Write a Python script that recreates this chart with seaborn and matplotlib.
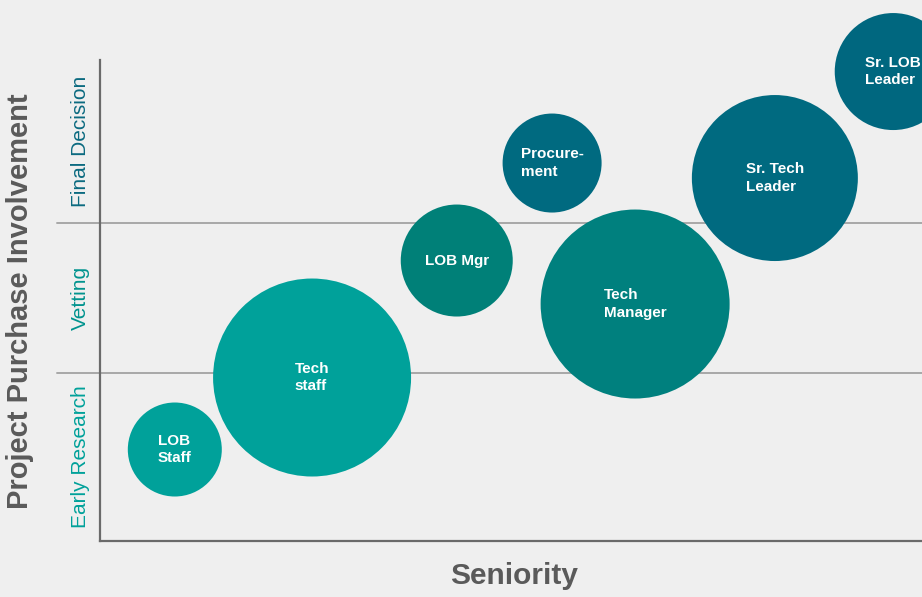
import matplotlib
matplotlib.use("Agg")
import matplotlib.pyplot as plt
import matplotlib.transforms as mtransforms
import seaborn as sns
import pandas as pd

# ---- data ----
roles = ["LOB\nStaff", "Tech\nstaff", "LOB Mgr", "Procure-\nment",
         "Tech\nManager", "Sr. Tech\nLeader", "Sr. LOB\nLeader"]
seniority = [0.91, 2.58, 4.34, 5.50, 6.51, 8.21, 9.65]
involvement = [0.49, 0.97, 1.75, 2.40, 1.46, 2.30, 3.01]
bubble_size = [94, 198, 112, 99, 189, 166, 117]   # relative bubble diameters
role_colors = ["#00A19A", "#00A19A", "#008078", "#006A80",
               "#00807E", "#006A80", "#00677F"]
stage_labels = ["Early Research", "Vetting", "Final Decision"]
stage_colors = ["#00A19A", "#00938E", "#0B6A80"]
stage_bounds = [1, 2]

sns.set_theme(style="white")
plt.rcParams["font.family"] = ["Liberation Sans", "DejaVu Sans"]

BG = "#EFEFEF"
DPI = 100
fig = plt.figure(figsize=(9.22, 5.97), dpi=DPI, facecolor=BG)
W, H = 922, 597
ax = fig.add_axes([100 / W, (H - 541) / H, (W - 100) / W, (541 - 60) / H])
ax.set_facecolor(BG)

xlim = (0, 10)
ylim = (-0.12, 3.087)
ax.set_xlim(*xlim)
ax.set_ylim(*ylim)

df = pd.DataFrame({
    "role": roles,
    "seniority": seniority,
    "involvement": involvement,
    "area": [(d * 72 / DPI) ** 2 for d in bubble_size],
})

# band separators (drawn first, under bubbles)
trans = mtransforms.blended_transform_factory(ax.transAxes, ax.transData)
for b in stage_bounds:
    ax.plot([-0.052, 1.0], [b, b], transform=trans, color="#A8A8A8",
            lw=1.4, clip_on=False, zorder=1)

smin, smax = df["area"].min(), df["area"].max()
sns.scatterplot(data=df, x="seniority", y="involvement", hue="role",
                palette=role_colors, size="area", sizes=(smin, smax),
                size_norm=(smin, smax), legend=False, linewidth=0,
                alpha=1, ax=ax, clip_on=False, zorder=3)

for _, r in df.iterrows():
    ax.text(r["seniority"], r["involvement"], r["role"], color="white",
            fontsize=11, fontweight="bold", ha="center", va="center",
            multialignment="left", linespacing=1.3, zorder=5, clip_on=False)

# stage labels on the y axis
ax.set_yticks([])
ax.set_xticks([])
edges = [ylim[0]] + stage_bounds + [ylim[1]]
for i, lab in enumerate(stage_labels):
    yc = (edges[i] + edges[i + 1]) / 2
    ax.text(-20 / 822, yc, lab, transform=trans, rotation=90,
            color=stage_colors[i], fontsize=15, ha="center", va="center")

ax.set_xlabel("")
ax.set_ylabel("")
fig.text(20 / W, 1 - 301 / H, "Project Purchase Involvement", rotation=90,
         fontsize=21, fontweight="bold", color="#5A5A5A",
         ha="center", va="center")
fig.text(514 / W, 1 - 576 / H, "Seniority", fontsize=21.5, fontweight="bold",
         color="#5A5A5A", ha="center", va="center")

for s in ["top", "right"]:
    ax.spines[s].set_visible(False)
for s in ["left", "bottom"]:
    ax.spines[s].set_color("#6A6A6A")
    ax.spines[s].set_linewidth(1.6)

fig.savefig("out.png", dpi=DPI, facecolor=BG)
